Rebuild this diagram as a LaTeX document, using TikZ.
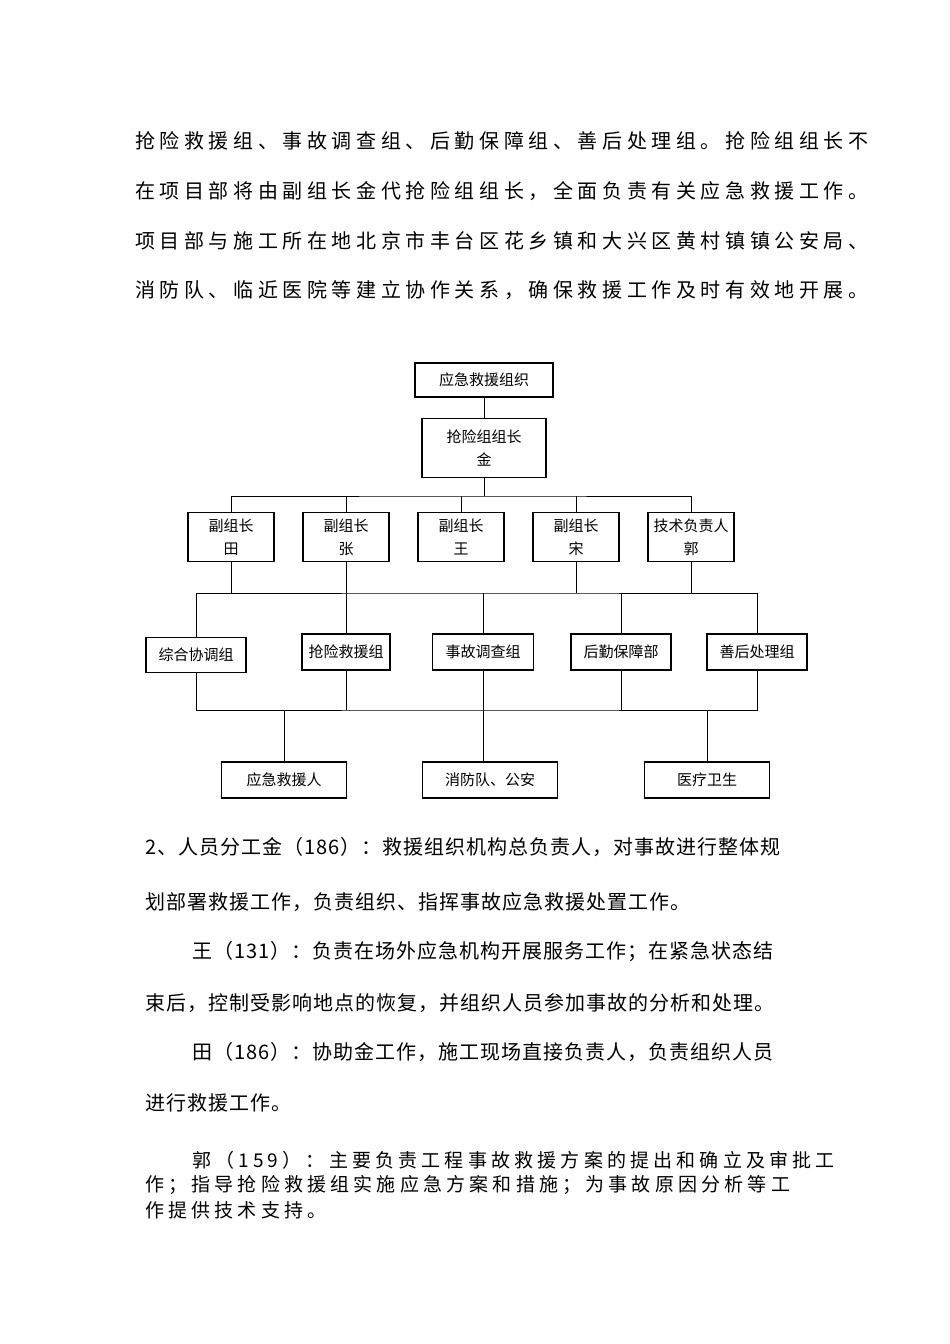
\documentclass[tikz,border=0pt]{standalone}
\usepackage{fontspec}
\newfontfamily\cjk{Noto Sans CJK SC}
\newfontfamily\cjkw[LetterSpace=23]{Noto Sans CJK SC}
\newfontfamily\cjkq[LetterSpace=5]{Noto Sans CJK SC}
\newfontfamily\cjkn[LetterSpace=22]{Noto Sans CJK SC}
\begin{document}
\begin{tikzpicture}[x=1pt,y=-1pt,
  bx/.style={draw,line width=1.2pt,inner sep=0pt,font=\cjk\fontsize{15}{23}\selectfont,align=center},
  ln/.style={line width=1pt},
  para/.style={anchor=west,inner sep=0pt,font=\cjkw\fontsize{20}{24}\selectfont},
  parq/.style={anchor=west,inner sep=0pt,font=\cjkq\fontsize{20}{24}\selectfont},
  parn/.style={anchor=west,inner sep=0pt,font=\cjkn\fontsize{19}{24}\selectfont}]
\useasboundingbox[fill=white] (0,0) rectangle (950,1344);
% paragraph text
\node[para] (p1) at (135,141) {抢险救援组、事故调查组、后勤保障组、善后处理组。抢险组组长不};
\node[para] (p2) at (135,191) {在项目部将由副组长金代抢险组组长，全面负责有关应急救援工作。};
\node[para] (p3) at (135,241) {项目部与施工所在地北京市丰台区花乡镇和大兴区黄村镇镇公安局、};
\node[para] (p4) at (135,290) {消防队、临近医院等建立协作关系，确保救援工作及时有效地开展。};
% boxes
\node[bx,minimum width=138,minimum height=34] (top) at (484,380) {应急救援组织};
\node[bx,minimum width=124,minimum height=59] (lead) at (484,448) {抢险组组长\\金};
\foreach \n/\x/\a/\b in {d1/231/副组长/田, d2/346/副组长/张, d3/461/副组长/王, d4/576/副组长/宋, d5/691/技术负责人/郭}
  \node[bx,minimum width=86,minimum height=49] (\n) at (\x,537) {\a\\\b};
\node[bx,minimum width=100,minimum height=35] (g1) at (196,655) {综合协调组};
\node[bx,minimum width=88,minimum height=36] (g2) at (346,652) {抢险救援组};
\node[bx,minimum width=101,minimum height=36] (g3) at (483,652) {事故调查组};
\node[bx,minimum width=100,minimum height=36] (g4) at (621,652) {后勤保障部};
\node[bx,minimum width=100,minimum height=36] (g5) at (757,652) {善后处理组};
\node[bx,minimum width=125,minimum height=36] (b1) at (284,780) {应急救援人};
\node[bx,minimum width=135,minimum height=36] (b2) at (490,780) {消防队、公安};
\node[bx,minimum width=125,minimum height=36] (b3) at (707,780) {医疗卫生};
% connectors
\coordinate (h1) at (484,496);
\draw[ln] (top) -- (lead);
\draw[ln] (lead.south) -- (lead.south|-h1);
\draw[ln] (d1.north) |- (h1) -| (d5.north);
\foreach \n in {d2,d3,d4} \draw[ln] (\n.north) -- (\n.north|-h1);
\coordinate (h2) at (484,593);
\draw[ln] (g1.north) |- (h2) -| (g5.north);
\draw[ln] (d1.south) -- (d1.south|-h2);
\draw[ln] (d4.south) -- (d4.south|-h2);
\draw[ln] (d5.south) -- (d5.south|-h2);
\draw[ln] (d2.south) -- (g2.north);
\draw[ln] (g3.north) -- (g3.north|-h2);
\draw[ln] (g4.north) -- (g4.north|-h2);
\coordinate (h3) at (484,710);
\draw[ln] (g1.south) |- (h3) -| (g5.south);
\draw[ln] (g2.south) -- (g2.south|-h3);
\draw[ln] (g3.south) -- (b2.north-|g3.south);
\draw[ln] (g4.south) -- (g4.south|-h3);
\draw[ln] (b1.north) -- (b1.north|-h3);
\draw[ln] (b3.north) -- (b3.north|-h3);
% lower text
\node[parq] (q1) at (145,847) {2、人员分工金（186）：救援组织机构总负责人，对事故进行整体规};
\node[parq] (q2) at (145,902) {划部署救援工作，负责组织、指挥事故应急救援处置工作。};
\node[parq] (q3) at (192,952) {王（131）：负责在场外应急机构开展服务工作；在紧急状态结};
\node[parq] (q4) at (145,1003) {束后，控制受影响地点的恢复，并组织人员参加事故的分析和处理。};
\node[parq] (q5) at (192,1052) {田（186）：协助金工作，施工现场直接负责人，负责组织人员};
\node[parq] (q6) at (145,1103) {进行救援工作。};
\node[parn] (r1) at (192,1160) {郭（159）：主要负责工程事故救援方案的提出和确立及审批工};
\node[parn] (r2) at (145,1185) {作；指导抢险救援组实施应急方案和措施；为事故原因分析等工};
\node[parn] (r3) at (145,1210) {作提供技术支持。};
\end{tikzpicture}
\end{document}
